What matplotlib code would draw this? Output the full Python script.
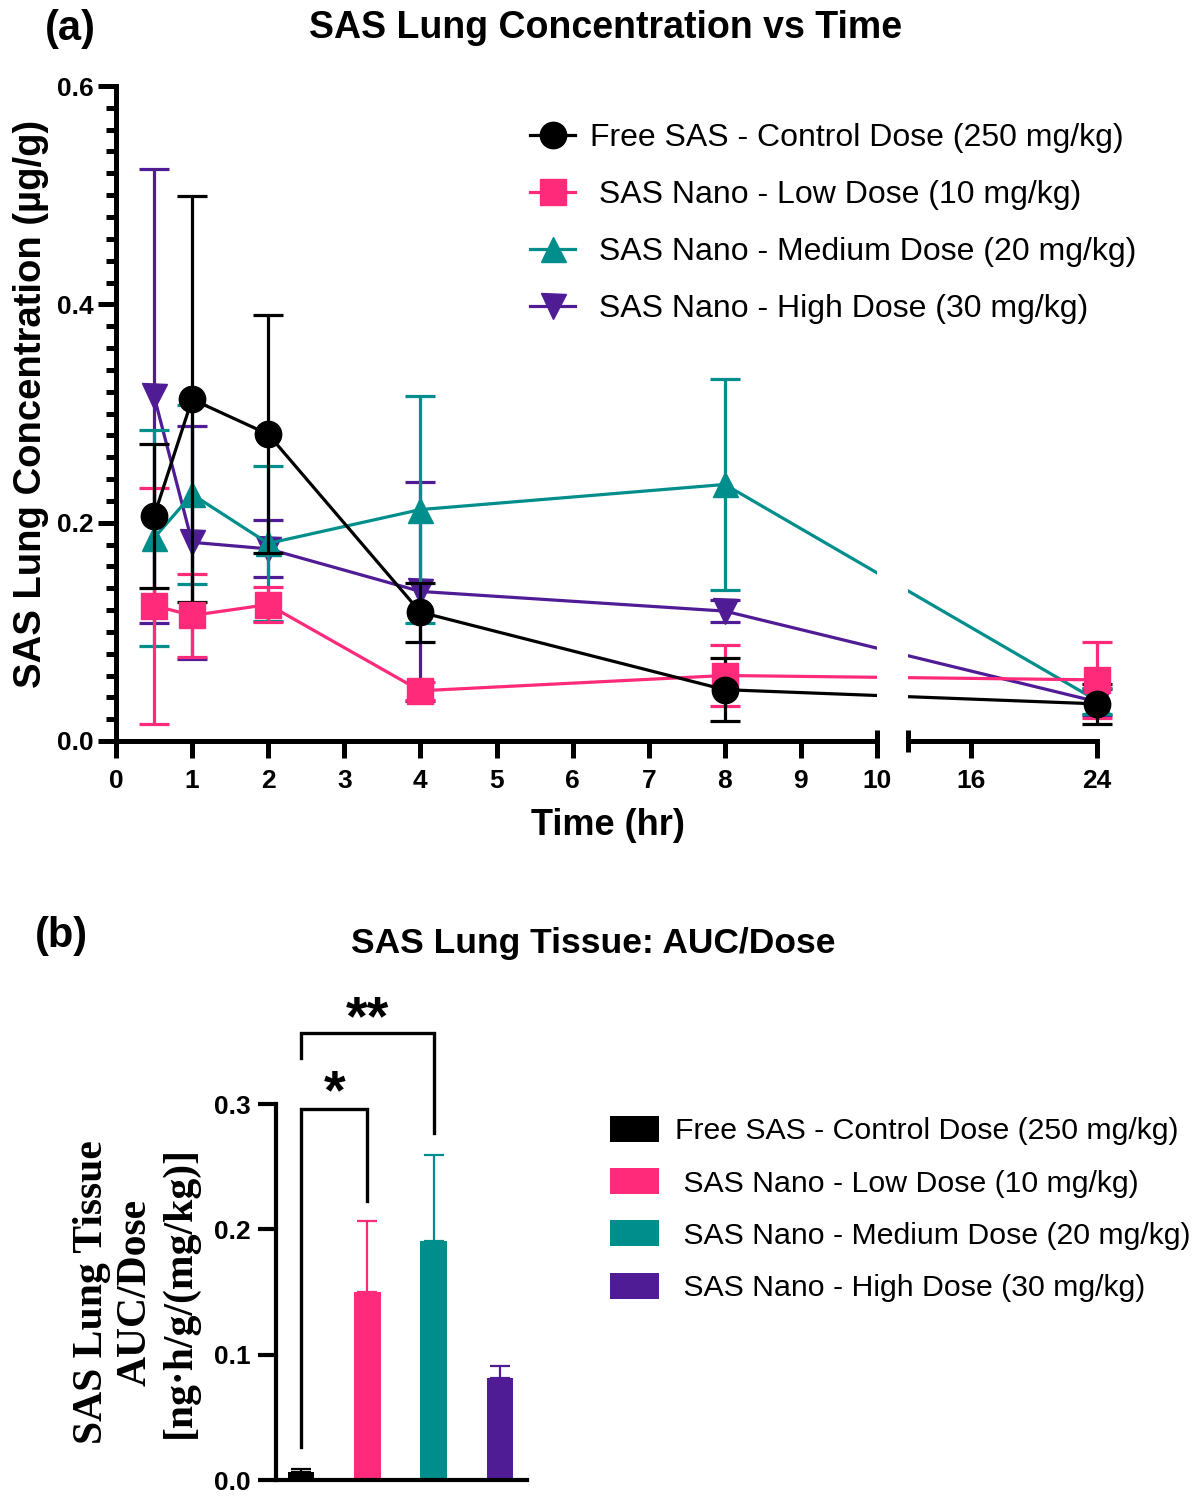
import numpy as np
import matplotlib
matplotlib.use("Agg")
import matplotlib.pyplot as plt
from matplotlib.patches import Rectangle

plt.rcParams['font.family'] = ['Liberation Sans', 'DejaVu Sans']

# ---------------- data ----------------
time_hr = [0.5, 1, 2, 4, 8, 24]
series_labels = ["Free SAS - Control Dose (250 mg/kg)",
                 " SAS Nano - Low Dose (10 mg/kg)",
                 " SAS Nano - Medium Dose (20 mg/kg)",
                 " SAS Nano - High Dose (30 mg/kg)"]
free_mean = [0.206, 0.313, 0.281, 0.118, 0.047, 0.034]
free_sd   = [0.066, 0.186, 0.109, 0.027, 0.029, 0.018]
low_mean  = [0.124, 0.115, 0.125, 0.046, 0.060, 0.056]
low_sd    = [0.108, 0.038, 0.016, 0.008, 0.028, 0.035]
med_mean  = [0.186, 0.226, 0.181, 0.212, 0.235, 0.037]
med_sd    = [0.099, 0.082, 0.071, 0.104, 0.097, 0.012]
high_mean = [0.316, 0.182, 0.176, 0.137, 0.119, 0.036]
high_sd   = [0.208, 0.107, 0.026, 0.100, 0.010, 0.012]

x_ticks = [0, 1, 2, 3, 4, 5, 6, 7, 8, 9, 10, 16, 24]
y_ticks_a = [0.0, 0.2, 0.4, 0.6]

bar_groups = ["Free SAS - Control Dose (250 mg/kg)",
              " SAS Nano - Low Dose (10 mg/kg)",
              " SAS Nano - Medium Dose (20 mg/kg)",
              " SAS Nano - High Dose (30 mg/kg)"]
auc_dose = [0.006, 0.150, 0.191, 0.081]
auc_err  = [0.003, 0.057, 0.068, 0.010]
y_ticks_b = [0.0, 0.1, 0.2, 0.3]

colors = ['#000000', '#FF2A7A', '#008E8C', '#501C96']
markers = ['o', 's', '^', 'v']

W, H = 1201, 1500
fig = plt.figure(figsize=(W / 100, H / 100), dpi=100)

def fx(px):
    return px / W

def fy(py):
    return 1 - py / H

# ---------------- panel (a) ----------------
G = 31 / 76.1      # gap width in axis units
S = 15.75 / 76.1   # scale of 12-24 segment

def fwd(x):
    x = np.asarray(x, dtype=float)
    return np.where(x <= 10, x,
                    np.where(x < 12, 10 + (x - 10) * G / 2, 10 + G + (x - 12) * S))

def inv(u):
    u = np.asarray(u, dtype=float)
    return np.where(u <= 10, u,
                    np.where(u < 10 + G, 10 + (u - 10) * 2 / G, 12 + (u - 10 - G) / S))

ax = fig.add_axes([fx(116), fy(741), fx(1097) - fx(116), fy(86) - fy(741)])
ax.set_xscale('function', functions=(fwd, inv))
ax.set_xlim(0, 24)
ax.set_ylim(0, 0.6)

means = [free_mean, low_mean, med_mean, high_mean]
sds = [free_sd, low_sd, med_sd, high_sd]
handles = [None] * 4
for i in [3, 2, 1, 0]:
    c = ax.errorbar(time_hr, means[i], yerr=sds[i], color=colors[i],
                    marker=markers[i], markersize=19 if i < 2 else 18,
                    lw=2.3, elinewidth=2.3, capsize=10.5, capthick=2.3,
                    clip_on=False, zorder=2 + (3 - i) * 0.1)
    handles[i] = c[0]

# gap over the axis break
ax.add_patch(Rectangle((10, 0.0005), 2, 1.2, transform=ax.get_xaxis_transform(),
                       facecolor='white', edgecolor='none', zorder=4, clip_on=False))

for s in ['top', 'right', 'bottom']:
    ax.spines[s].set_visible(False)
ax.spines['left'].set_linewidth(3.6)
xt = ax.get_xaxis_transform()
ax.plot([0, 10], [0, 0], color='black', lw=3.6, transform=xt, clip_on=False,
        zorder=5, solid_capstyle='butt')
ax.plot([12, 24], [0, 0], color='black', lw=3.6, transform=xt, clip_on=False,
        zorder=5, solid_capstyle='projecting')
for xb in [10, 12]:
    ax.plot([xb, xb], [-0.017, 0.017], color='black', lw=3.6, transform=xt,
            clip_on=False, zorder=5, solid_capstyle='butt')

ax.set_xticks(x_ticks)
ax.set_xticklabels([str(t) for t in x_ticks])
ax.xaxis.set_minor_locator(matplotlib.ticker.NullLocator())
ax.set_yticks(y_ticks_a)
ax.set_yticklabels([f"{t:.1f}" for t in y_ticks_a])
ax.set_yticks(np.arange(0, 0.6001, 0.02), minor=True)
ax.tick_params(axis='x', which='major', length=12, width=3.6, pad=8,
               labelsize=19)
ax.tick_params(axis='y', which='major', length=13, width=3.6, pad=3,
               labelsize=19)
ax.tick_params(axis='y', which='minor', length=7.5, width=3.6)
for lab in ax.get_xticklabels() + ax.get_yticklabels():
    lab.set_fontweight('bold')

fig.text(fx(606), fy(28), "SAS Lung Concentration vs Time", ha='center',
         va='center', fontsize=27, fontweight='bold')
fig.text(fx(45), fy(29), "(a)", ha='left', va='center', fontsize=30,
         fontweight='bold')
fig.text(fx(31), fy(404), "SAS Lung Concentration (\u00b5g/g)", ha='center',
         va='center', rotation=90, fontsize=27.5, fontweight='bold')
fig.text(fx(608), fy(825), "Time (hr)", ha='center', va='center',
         fontsize=26, fontweight='bold')

leg = ax.legend(handles=handles, labels=series_labels, loc='center left',
                bbox_to_anchor=(fx(530), fy(223.5)), bbox_transform=fig.transFigure,
                frameon=False, fontsize=23, handlelength=1.41, handletextpad=0.47,
                borderpad=0, borderaxespad=0, labelspacing=0.84)

# ---------------- panel (b) ----------------
bx = fig.add_axes([fx(276), fy(1480), fx(527) - fx(276), fy(1104) - fy(1480)])
pos = np.arange(len(auc_dose))
bars = bx.bar(pos, auc_dose, width=0.4, color=colors, zorder=2)
for i in range(len(auc_dose)):
    bx.errorbar(pos[i], auc_dose[i], yerr=[[0], [auc_err[i]]], fmt='none',
                ecolor=colors[i], elinewidth=1.6, capsize=7, capthick=1.6,
                zorder=1)
bx.set_xlim(-0.38, 3.41)
bx.set_ylim(0, 0.3)
bx.set_yticks(y_ticks_b)
bx.set_yticklabels([f"{t:.1f}" for t in y_ticks_b])
bx.set_xticks([])
for s in ['top', 'right']:
    bx.spines[s].set_visible(False)
bx.spines['left'].set_linewidth(3)
bx.spines['bottom'].set_linewidth(3)
bx.tick_params(axis='y', length=13, width=3, pad=5, labelsize=19)
for lab in bx.get_yticklabels():
    lab.set_fontweight('bold')

# significance brackets
bx.plot([0, 0, 1, 1], [0.026, 0.296, 0.296, 0.223], color='black', lw=2.4,
        clip_on=False, solid_joinstyle='miter')
bx.text(0.5, 0.3076, "*", ha='center', va='center', fontsize=40,
        fontweight='bold')
bx.plot([0, 0, 2, 2], [0.337, 0.357, 0.357, 0.277], color='black', lw=2.4,
        clip_on=False, solid_joinstyle='miter')
bx.text(1.0, 0.3672, "**", ha='center', va='center', fontsize=40,
        fontweight='bold')

fig.text(fx(593), fy(943), "SAS Lung Tissue: AUC/Dose", ha='center',
         va='center', fontsize=25.5, fontweight='bold')
fig.text(fx(35), fy(936), "(b)", ha='left', va='center', fontsize=30,
         fontweight='bold')
fig.text(fx(136), fy(1292), "SAS Lung Tissue\nAUC/Dose\n[ng\u00b7h/g/(mg/kg)]",
         ha='center', va='center', rotation=90, fontsize=30, fontweight='bold',
         family=['Liberation Serif', 'DejaVu Serif'], linespacing=1.2,
         multialignment='center')

bleg = bx.legend(handles=list(bars), labels=bar_groups, loc='center left',
                 bbox_to_anchor=(fx(610), fy(1209)), bbox_transform=fig.transFigure,
                 frameon=False, fontsize=21.8, handlelength=1.62,
                 handleheight=0.95, handletextpad=0.52, borderpad=0,
                 borderaxespad=0, labelspacing=0.75)

fig.savefig("out.png", dpi=100)
